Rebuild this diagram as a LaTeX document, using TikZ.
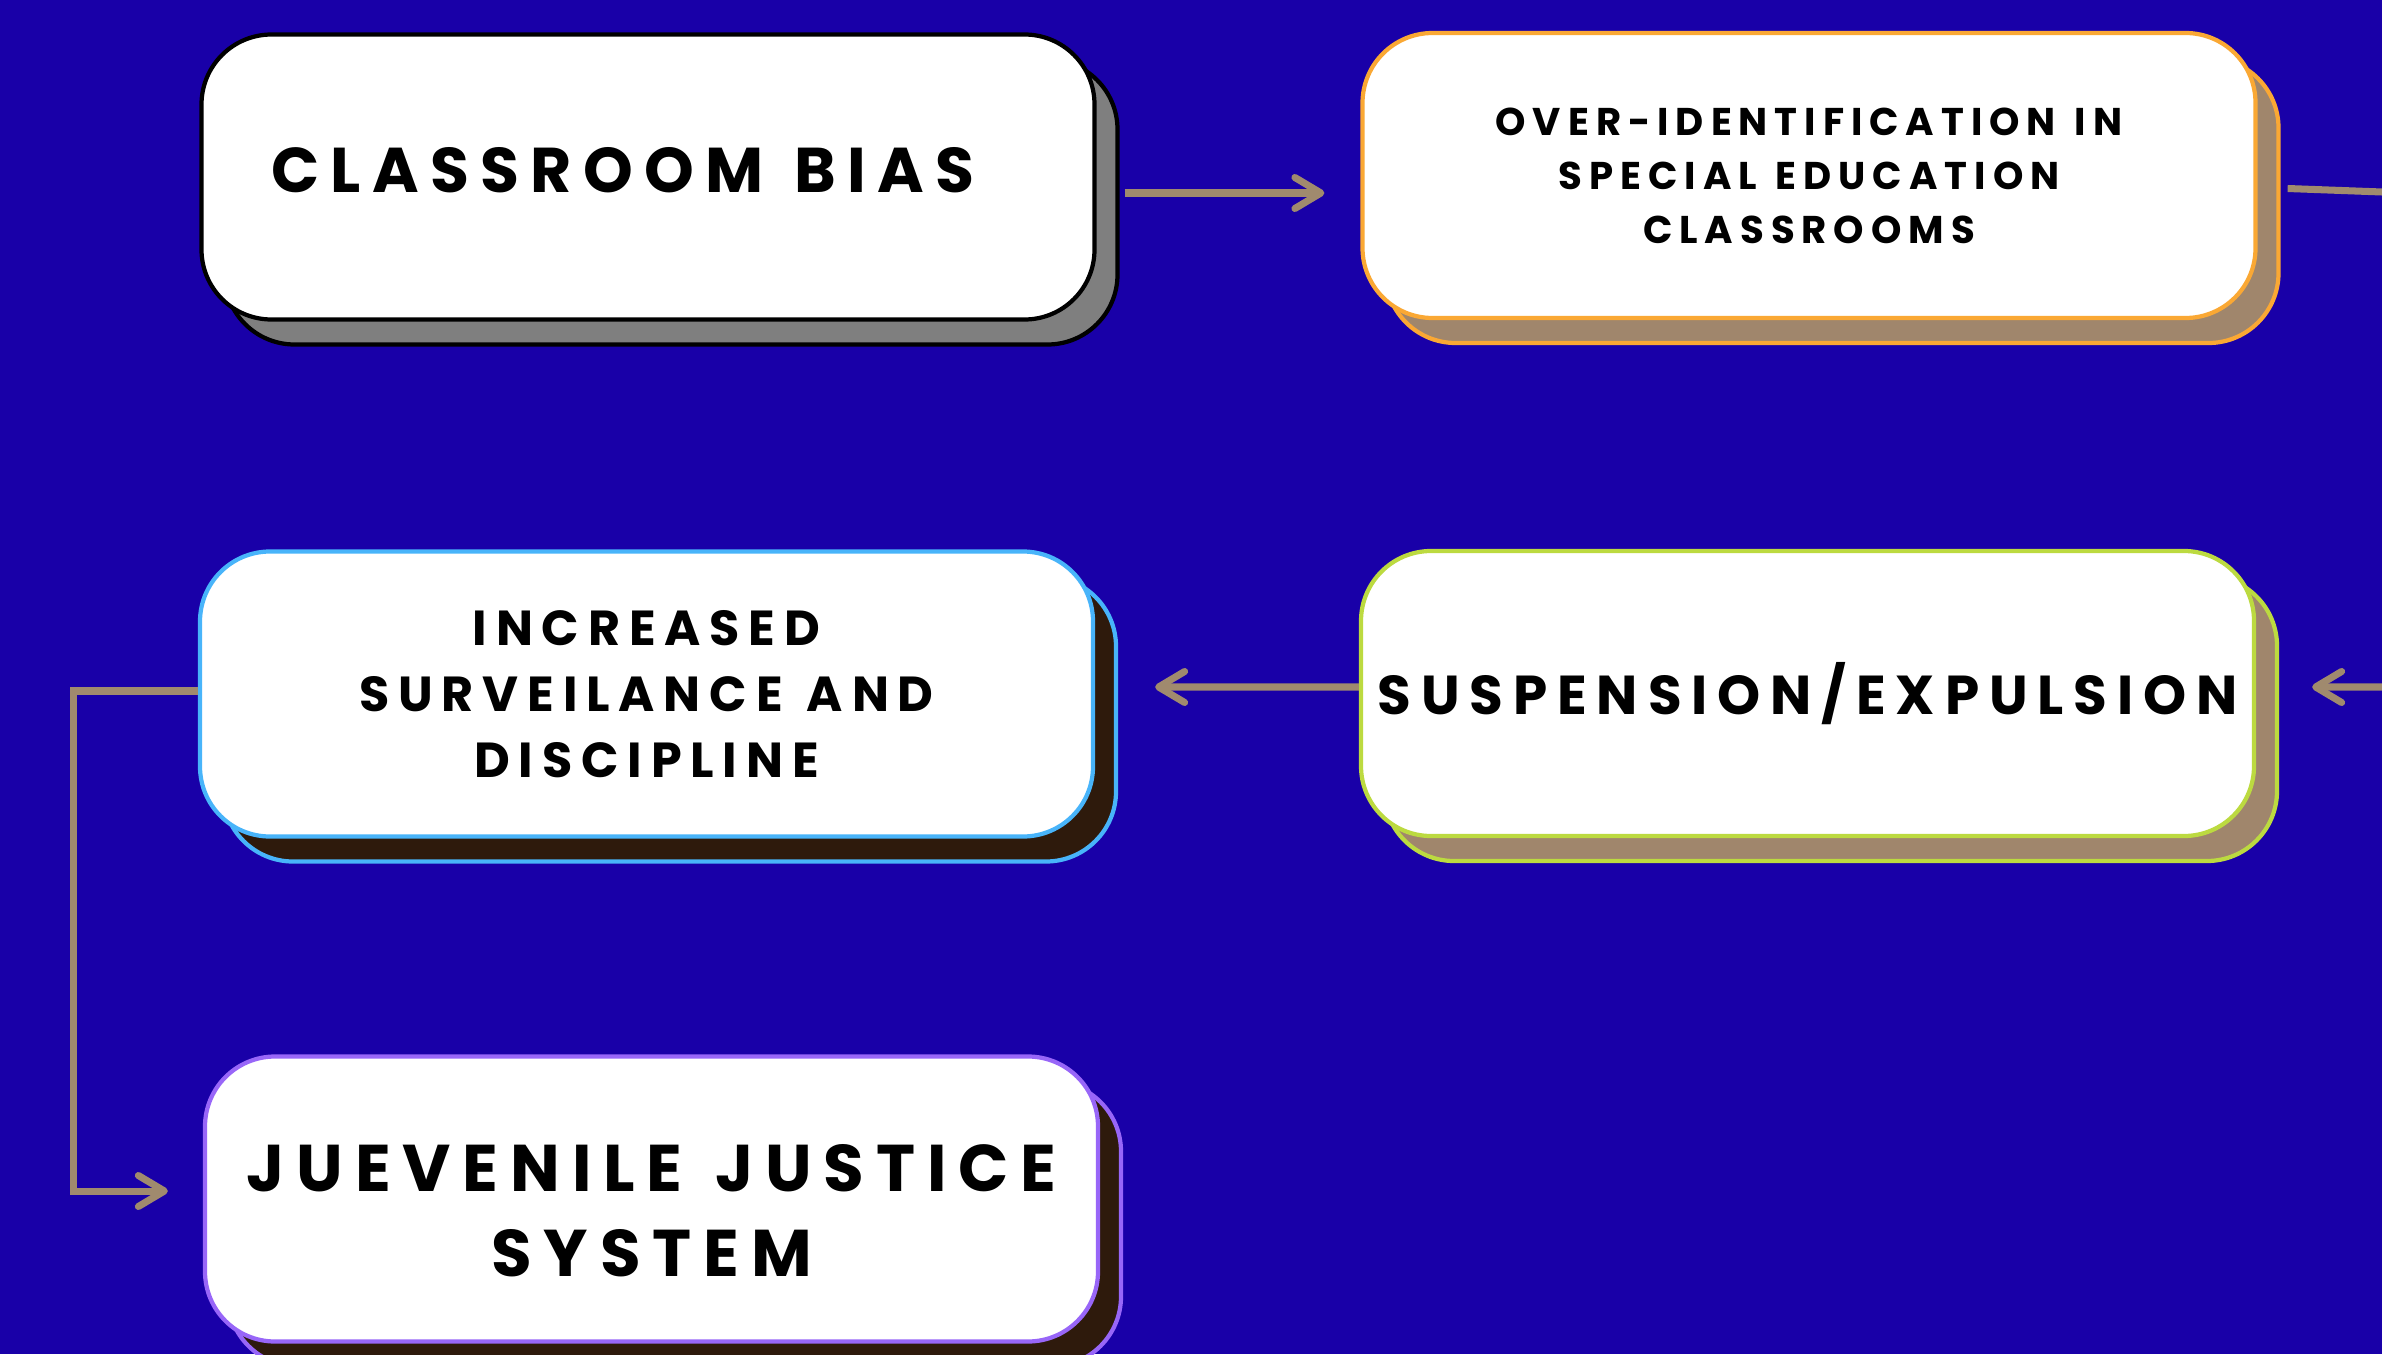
\documentclass[tikz,border=0pt]{standalone}
\usepackage{fontspec}
\setmainfont{Poppins}
\newfontfamily\boxfont{Poppins}[LetterSpace=18, WordSpace=1.25]
\usetikzlibrary{arrows.meta,shadows}

\definecolor{bgblue}{RGB}{25,0,168}
\definecolor{arrowtan}{RGB}{160,138,110}
\definecolor{shadetan}{RGB}{160,134,108}
\definecolor{shadegray}{RGB}{127,127,127}
\definecolor{shadebrown}{RGB}{46,26,12}
\definecolor{edgeorange}{RGB}{250,168,52}
\definecolor{edgeblue}{RGB}{72,180,250}
\definecolor{edgelime}{RGB}{188,218,64}
\definecolor{edgepurple}{RGB}{152,102,248}

\begin{document}
\begin{tikzpicture}[
    card/.style 2 args={draw=#1, fill=white, line width=1.2pt, rounded corners=7mm,
        minimum width=8.93cm, minimum height=2.85cm, inner sep=0pt, align=center,
        copy shadow={shadow xshift=2.3mm, shadow yshift=-2.5mm, fill=#2, draw=#1, line width=1.2pt}},
    txt/.style 2 args={font=\boxfont\bfseries\fontsize{#1}{#2}\selectfont},
    flow/.style={arrowtan, line width=2pt},
    tip/.style={-{Straight Barb[round, length=2.6mm, width=3.1mm]}}
]

\fill[bgblue] (0,0) rectangle (23.82,-13.54);
\useasboundingbox (0,0) rectangle (23.82,-13.54);

\node[card={black}{shadegray}, txt={18}{22}, text depth=1.4mm] (bias) at (6.48,-1.77)
    {CLASSROOM BIAS\hspace*{5mm}};
\node[card={edgeorange}{shadetan}, txt={11}{15.4}] (overid) at (18.09,-1.755)
    {OVER-IDENTIFICATION IN\\ SPECIAL EDUCATION\\ CLASSROOMS};
\node[card={edgeblue}{shadebrown}, txt={14}{18.8}] (surv) at (6.465,-6.94)
    {INCREASED\\ SURVEILANCE AND\\ DISCIPLINE};
\node[card={edgelime}{shadetan}, txt={15.6}{19}] (susp) at (18.075,-6.935)
    {SUSPENSION/EXPULSION};
\node[card={edgepurple}{shadebrown}, txt={18.8}{24.2}, text height=44pt, text depth=0pt] (juv) at (6.515,-11.99)
    {JUEVENILE JUSTICE\\ SYSTEM};

\coordinate (exitR) at (23.82,-1.92);
\coordinate (entR) at (23.82,-6.87);

\draw[flow, tip] ([xshift=2.8mm, yshift=-1.6mm]bias.east) -- ([xshift=-3.6mm, yshift=-1.75mm]overid.west);
\draw[flow] ([xshift=3mm, yshift=-1.3mm]overid.east) -- (exitR);
\draw[flow, tip] (entR) -- ([xshift=5.6mm, yshift=0.65mm]susp.east);
\draw[flow, tip] ([yshift=0.65mm]susp.west) -- ([xshift=6mm, yshift=0.7mm]surv.east);
\draw[flow, tip] ([yshift=0.3mm]surv.west) -- ++(-1.24,0) |- ([xshift=-3.5mm, yshift=0.8mm]juv.west);

\end{tikzpicture}
\end{document}
